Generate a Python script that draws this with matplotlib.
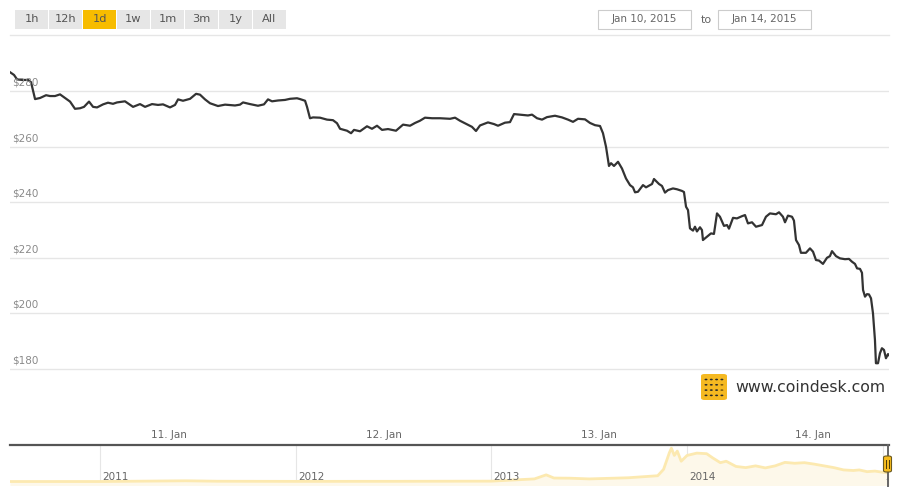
import matplotlib
matplotlib.use('Agg')
import matplotlib.pyplot as plt
from matplotlib.patches import FancyBboxPatch, Rectangle

# Main series: hours after 10 Jan 2015 00:00, and price in USD
hours = [6.23, 6.68, 7.02, 7.58, 8.25, 8.58, 9.03, 9.59, 10.26, 10.70,
         11.26, 11.82, 12.38, 12.94, 13.49, 14.06, 14.50, 15.06, 15.51, 15.96,
         16.63, 17.18, 17.74, 18.19, 19.08, 19.98, 20.76, 21.32, 22.10, 22.77,
         23.33, 24.11, 24.67, 25.01, 25.56, 26.35, 27.02, 27.46, 28.02, 28.58,
         29.47, 30.26, 31.37, 31.93, 32.27, 33.05, 33.94, 34.61, 35.06, 35.51,
         36.18, 36.96, 37.52, 38.30, 38.64, 39.20, 39.42, 39.75, 40.09, 40.87,
         41.65, 42.32, 42.77, 43.11, 43.89, 44.34, 44.67, 45.34, 46.12, 46.68,
         47.24, 47.80, 48.47, 49.36, 50.15, 50.93, 51.49, 52.04, 52.60, 53.39,
         54.28, 55.40, 55.96, 56.51, 57.30, 57.85, 58.30, 58.75, 59.64, 60.31,
         60.76, 61.54, 62.10, 62.55, 63.22, 64.11, 64.56, 65.12, 65.68, 66.23,
         67.13, 67.91, 68.58, 69.14, 69.70, 70.48, 71.04, 71.60, 72.16, 72.49,
         72.83, 73.16, 73.39, 73.72, 74.17, 74.61, 75.06, 75.51, 75.84, 76.07,
         76.40, 76.96, 77.30, 77.97, 78.19, 78.75, 79.08, 79.42, 79.75, 80.31,
         80.76, 81.32, 81.54, 81.77, 81.99, 82.21, 82.55, 82.77, 82.99, 83.33,
         83.55, 83.66, 84.11, 84.56, 84.89, 85.23, 85.56, 86.01, 86.35, 86.57,
         87.02, 87.46, 88.02, 88.36, 88.69, 89.14, 89.59, 90.26, 90.70, 91.15,
         91.82, 92.16, 92.60, 92.83, 93.16, 93.61, 93.83, 94.06, 94.39, 94.61,
         95.17, 95.62, 95.96, 96.29, 96.63, 97.07, 97.52, 97.85, 98.08, 98.53,
         98.97, 99.53, 99.98, 100.31, 100.65, 100.88, 101.21, 101.43, 101.55, 101.77,
         101.99, 102.21, 102.44, 102.66, 102.88, 102.99, 103.22, 103.44, 103.66, 103.89,
         104.11, 104.34, 104.45]
prices = [286.8, 285.8, 284.2, 284.0, 284.0, 283.2, 277.1, 277.5, 278.5, 278.2,
          278.2, 278.8, 277.5, 276.2, 273.6, 273.8, 274.3, 276.2, 274.3, 274.1,
          275.2, 275.8, 275.4, 275.9, 276.3, 274.3, 275.3, 274.3, 275.3, 275.0,
          275.2, 274.1, 275.0, 277.0, 276.5, 277.2, 279.0, 278.7, 277.0, 275.6,
          274.6, 275.1, 274.8, 275.1, 275.9, 275.3, 274.7, 275.2, 277.0, 276.3,
          276.6, 276.8, 277.2, 277.4, 277.1, 276.5, 274.3, 270.2, 270.5, 270.4,
          269.7, 269.5, 268.4, 266.4, 265.7, 264.8, 266.0, 265.5, 267.3, 266.4,
          267.5, 266.0, 266.3, 265.7, 267.9, 267.5, 268.5, 269.3, 270.4, 270.2,
          270.2, 270.0, 270.4, 269.3, 268.0, 267.1, 265.6, 267.6, 268.7, 268.1,
          267.5, 268.6, 268.8, 271.7, 271.5, 271.2, 271.5, 270.2, 269.7, 270.6,
          271.1, 270.5, 269.7, 268.9, 270.0, 269.8, 268.5, 267.7, 267.4, 264.8,
          259.9, 253.0, 254.0, 253.0, 254.5, 252.1, 248.5, 246.1, 245.3, 243.5,
          243.7, 246.1, 245.3, 246.5, 248.3, 246.5, 245.8, 243.4, 244.3, 244.9,
          244.6, 244.0, 243.6, 238.3, 237.1, 230.5, 229.7, 231.1, 229.4, 230.9,
          229.9, 226.3, 227.5, 228.7, 228.5, 235.9, 234.7, 231.4, 231.7, 230.4,
          234.3, 234.1, 234.9, 235.3, 232.3, 232.7, 231.1, 231.7, 234.7, 235.9,
          235.6, 236.3, 234.7, 232.7, 235.1, 234.7, 233.3, 226.3, 224.5, 221.7,
          221.7, 223.3, 222.1, 219.1, 218.9, 217.7, 219.9, 220.5, 222.3, 220.5,
          219.7, 219.4, 219.5, 218.5, 217.7, 216.1, 215.9, 214.5, 208.3, 205.9,
          206.8, 206.7, 205.3, 199.9, 190.3, 181.9, 181.9, 185.5, 187.3, 186.7,
          183.7, 185.2, 184.8]

y_ticks = [180, 200, 220, 240, 260, 280]
day_ticks = [24, 48, 72, 96]
day_labels = ['11. Jan', '12. Jan', '13. Jan', '14. Jan']

# Navigator series: year (decimal) and price in USD
nav_years = [2010.54, 2011.0, 2011.44, 2011.6, 2012.0, 2012.5, 2013.0, 2013.22,
             2013.28, 2013.32, 2013.4, 2013.5, 2013.7, 2013.85, 2013.88, 2013.91,
             2013.92, 2013.935, 2013.95, 2013.97, 2014.0, 2014.05, 2014.1, 2014.13,
             2014.17, 2014.2, 2014.25, 2014.3, 2014.35, 2014.4, 2014.45, 2014.5,
             2014.55, 2014.6, 2014.65, 2014.7, 2014.75, 2014.8, 2014.85, 2014.88,
             2014.92, 2014.96, 2015.0, 2015.032]
nav_prices = [0.06, 0.3, 25, 10, 5, 7, 13, 90,
              230, 120, 115, 90, 130, 200, 420, 1000,
              1150, 900, 1050, 700, 900, 980, 960, 820,
              650, 700, 520, 480, 540, 470, 540, 660,
              630, 650, 600, 540, 480, 400, 380, 400,
              340, 360, 320, 290]
nav_year_ticks = [2011, 2012, 2013, 2014, 2015]

buttons = ['1h', '12h', '1d', '1w', '1m', '3m', '1y', 'All']
active_button = '1d'
date_from = 'Jan 10, 2015'
date_to = 'Jan 14, 2015'

W, H = 900, 500
fig = plt.figure(figsize=(9, 5), dpi=100)
fig.patch.set_facecolor('white')

def fx(px):
    return px / W

def fy(py):
    return 1 - py / H

# ---- main chart
ax = fig.add_axes([fx(10), fy(424), fx(879), (424 - 35) / H])
ax.plot(hours, prices, color='#333333', linewidth=1.6, solid_joinstyle='round')
ax.set_xlim(hours[0], hours[-1])
ax.set_ylim(160, 300.2)
for v in y_ticks:
    ax.axhline(v, color='#e6e6e6', linewidth=1, zorder=0)
    ax.annotate(f'${v}', xy=(0, v), xycoords=('axes fraction', 'data'),
                xytext=(1.5, 2.5), textcoords='offset points',
                fontsize=7.5, color='#8a8a8a', va='bottom', ha='left')
ax.set_yticks([])
ax.set_xticks(day_ticks)
ax.set_xticklabels(day_labels, fontsize=7.5, color='#666666')
ax.tick_params(axis='x', length=0, pad=4)
for s in ['left', 'right', 'bottom']:
    ax.spines[s].set_visible(False)
ax.spines['top'].set_color('#e6e6e6')
ax.spines['top'].set_linewidth(1)

# ---- navigator
nav = fig.add_axes([fx(10), fy(485), fx(879), 40 / H])
nav.fill_between(nav_years, nav_prices, -200, color='#fdf8ea', linewidth=0)
nav.plot(nav_years, nav_prices, color='#fce9b0', linewidth=2)
nav.set_xlim(2010.54, 2015.032)
nav.set_ylim(-120, 1260)
for yr in nav_year_ticks:
    nav.axvline(yr, color='#e6e6e6', linewidth=0.8, zorder=0)
    nav.text(yr + 0.012, 0.2, str(yr), transform=nav.get_xaxis_transform(),
             fontsize=7.5, color='#666666', va='center', ha='left', clip_on=True)
nav.set_xticks([])
nav.set_yticks([])
for s in ['left', 'right', 'bottom']:
    nav.spines[s].set_visible(False)
nav.spines['top'].set_color('#555555')
nav.spines['top'].set_linewidth(1.6)

# navigator handle at the right edge
fig.add_artist(plt.Line2D([fx(887.5), fx(887.5)], [fy(445), fy(486)],
                          color='#666666', linewidth=1.4))
fig.patches.append(FancyBboxPatch((fx(883.5), fy(472)), fx(8), 16 / H,
                                  boxstyle='round,pad=0,rounding_size=0.003',
                                  transform=fig.transFigure,
                                  facecolor='#f7bc1c', edgecolor='#6b5a20',
                                  linewidth=0.8, zorder=5))
for d in (-1.3, 1.3):
    fig.add_artist(plt.Line2D([fx(887.5 + d), fx(887.5 + d)], [fy(460), fy(468)],
                              color='#4a3a08', linewidth=0.7, zorder=6))

# ---- range selector buttons
bx = 15
for b in buttons:
    face = '#f7bc00' if b == active_button else '#e6e6e6'
    fig.patches.append(Rectangle((fx(bx), fy(29)), fx(33), 19 / H,
                                 transform=fig.transFigure,
                                 facecolor=face, edgecolor='none'))
    fig.text(fx(bx + 16.5), fy(19.5), b, fontsize=8.2, color='#555555',
             ha='center', va='center')
    bx += 34

# ---- date inputs
for x0, txt in ((598, date_from), (718, date_to)):
    fig.patches.append(Rectangle((fx(x0), fy(28.5)), fx(93), 18.5 / H,
                                 transform=fig.transFigure,
                                 facecolor='white', edgecolor='#cccccc',
                                 linewidth=0.8))
    fig.text(fx(x0 + 46.5), fy(19.5), txt, fontsize=7.5, color='#666666',
             ha='center', va='center')
fig.text(fx(706), fy(20), 'to', fontsize=8, color='#666666',
         ha='center', va='center')

# ---- coindesk watermark
fig.patches.append(FancyBboxPatch((fx(701), fy(400)), fx(26), 26 / H,
                                  boxstyle='round,pad=0,rounding_size=0.004',
                                  transform=fig.transFigure,
                                  facecolor='#f5b921', edgecolor='none'))
for r in range(4):
    for c in range(4):
        light = c == 3 and r in (1, 2)
        fig.patches.append(plt.Circle((fx(706 + c * 5.3), fy(379.5 + r * 5.3)),
                                      1.5 / W, transform=fig.transFigure,
                                      facecolor='#7a5a10' if light else '#2a2a2a',
                                      edgecolor='none'))
fig.text(fx(735), fy(387), 'www.coindesk.com', fontsize=11.3, color='#333333',
         ha='left', va='center', fontweight='medium')

fig.savefig('out.png', dpi=100)
